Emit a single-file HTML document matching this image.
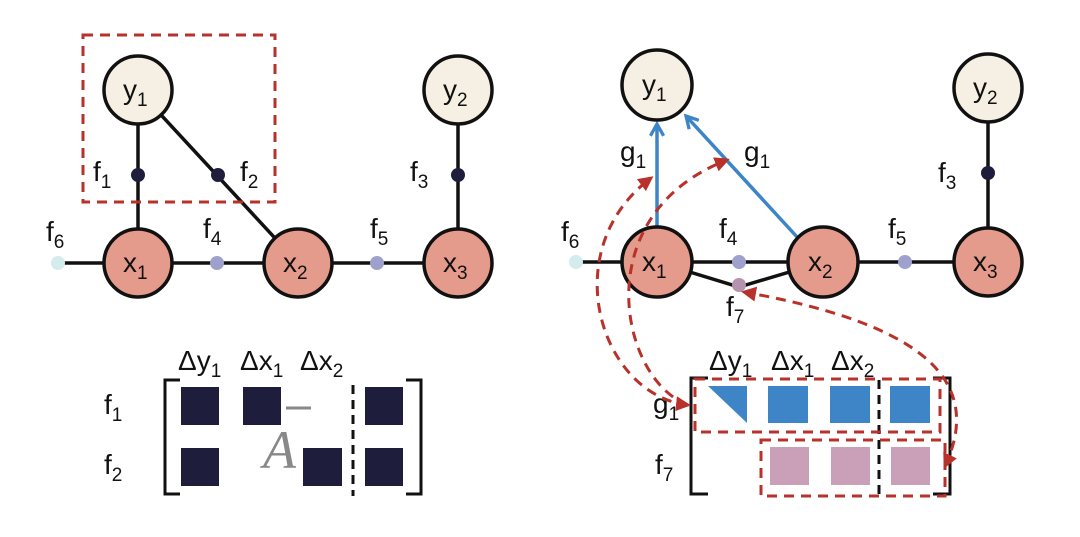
<!DOCTYPE html>
<html><head><meta charset="utf-8"><style>
html,body{margin:0;padding:0;background:#fff;}
svg{display:block;font-family:"Liberation Sans",sans-serif;}
</style></head><body>
<svg width="1080" height="537" viewBox="0 0 1080 537" xmlns="http://www.w3.org/2000/svg">
<defs>
<marker id="ra" viewBox="0 0 10 10" refX="8" refY="5" markerWidth="5" markerHeight="5" orient="auto-start-reverse"><path d="M0,0 L10,5 L0,10 z" fill="#b8312a"/></marker>
<marker id="ba" viewBox="0 0 12 12" refX="10" refY="6" markerWidth="4.5" markerHeight="4.5" orient="auto"><path d="M1,1 L10,6 L1,11" fill="none" stroke="#3d85c6" stroke-width="2.5"/></marker>
</defs>
<g stroke="#111" stroke-width="3.5" fill="none">
<line x1="138" y1="90" x2="138" y2="263"/>
<line x1="138" y1="90" x2="298" y2="263"/>
<line x1="458" y1="90" x2="458" y2="263"/>
<line x1="58" y1="263" x2="458" y2="263"/>
<line x1="988" y1="88" x2="988" y2="262"/>
<line x1="576" y1="262" x2="988" y2="262"/>
<polyline points="657,262 739,287 823,262"/>
</g>
<rect x="83" y="35" width="192" height="167" fill="none" stroke="#b8312a" stroke-width="3" stroke-dasharray="10,7"/>
<line x1="657" y1="228" x2="657" y2="124" stroke="#3d85c6" stroke-width="3.5" marker-end="url(#ba)"/>
<line x1="798" y1="238" x2="686" y2="116" stroke="#3d85c6" stroke-width="3.5" marker-end="url(#ba)"/>
<g stroke="#111" stroke-width="3.5">
<circle cx="138" cy="90" r="34" fill="#f5f0e3"/>
<circle cx="458" cy="90" r="34" fill="#f5f0e3"/>
<circle cx="138" cy="263" r="34" fill="#e59b8c"/>
<circle cx="298" cy="263" r="34" fill="#e59b8c"/>
<circle cx="458" cy="263" r="34" fill="#e59b8c"/>
<circle cx="657" cy="85" r="35" fill="#f5f0e3"/>
<circle cx="988" cy="88" r="34" fill="#f5f0e3"/>
<circle cx="657" cy="262" r="35" fill="#e59b8c"/>
<circle cx="823" cy="262" r="35" fill="#e59b8c"/>
<circle cx="988" cy="262" r="34" fill="#e59b8c"/>
</g>
<g>
<circle cx="138" cy="175" r="7" fill="#1e1e3c"/>
<circle cx="218" cy="175" r="7" fill="#1e1e3c"/>
<circle cx="458" cy="175" r="7" fill="#1e1e3c"/>
<circle cx="217" cy="263" r="7" fill="#a0a0cc"/>
<circle cx="377" cy="263" r="7" fill="#a0a0cc"/>
<circle cx="58" cy="263" r="7" fill="#d4ecec"/>
<circle cx="988" cy="173" r="7" fill="#1e1e3c"/>
<circle cx="739" cy="262" r="7" fill="#a0a0cc"/>
<circle cx="905" cy="262" r="7" fill="#a0a0cc"/>
<circle cx="576" cy="262" r="7" fill="#d4ecec"/>
<circle cx="739" cy="285" r="7" fill="#b592ad"/>
</g>
<g font-size="28" fill="#111">
<text x="123" y="99">y<tspan font-size="19" dy="7">1</tspan></text>
<text x="443" y="99">y<tspan font-size="19" dy="7">2</tspan></text>
<text x="123" y="272">x<tspan font-size="19" dy="7">1</tspan></text>
<text x="283" y="272">x<tspan font-size="19" dy="7">2</tspan></text>
<text x="443" y="272">x<tspan font-size="19" dy="7">3</tspan></text>
<text x="93" y="181">f<tspan font-size="19" dy="7">1</tspan></text>
<text x="240" y="181">f<tspan font-size="19" dy="7">2</tspan></text>
<text x="410" y="181">f<tspan font-size="19" dy="7">3</tspan></text>
<text x="46" y="241">f<tspan font-size="19" dy="7">6</tspan></text>
<text x="203" y="238">f<tspan font-size="19" dy="7">4</tspan></text>
<text x="370" y="238">f<tspan font-size="19" dy="7">5</tspan></text>

<text x="642" y="94">y<tspan font-size="19" dy="7">1</tspan></text>
<text x="973" y="97">y<tspan font-size="19" dy="7">2</tspan></text>
<text x="642" y="271">x<tspan font-size="19" dy="7">1</tspan></text>
<text x="808" y="271">x<tspan font-size="19" dy="7">2</tspan></text>
<text x="973" y="271">x<tspan font-size="19" dy="7">3</tspan></text>
<text x="620" y="161">g<tspan font-size="19" dy="7">1</tspan></text>
<text x="744" y="161">g<tspan font-size="19" dy="7">1</tspan></text>
<text x="938" y="182">f<tspan font-size="19" dy="7">3</tspan></text>
<text x="561" y="241">f<tspan font-size="19" dy="7">6</tspan></text>
<text x="719" y="238">f<tspan font-size="19" dy="7">4</tspan></text>
<text x="888" y="238">f<tspan font-size="19" dy="7">5</tspan></text>
<text x="726" y="316">f<tspan font-size="19" dy="7">7</tspan></text>
</g>
<g fill="#1e1e3c">
<rect x="181" y="387" width="38" height="38"/>
<rect x="243" y="387" width="38" height="38"/>
<rect x="365" y="387" width="38" height="38"/>
<rect x="181" y="448" width="38" height="38"/>
<rect x="303" y="448" width="39" height="38"/>
<rect x="365" y="448" width="38" height="38"/>
</g>
<path d="M180,380 L165,380 L165,494 L180,494" fill="none" stroke="#111" stroke-width="3"/>
<path d="M406,380 L421,380 L421,494 L406,494" fill="none" stroke="#111" stroke-width="3"/>
<line x1="353" y1="385" x2="353" y2="496" stroke="#111" stroke-width="3" stroke-dasharray="9,6"/>
<g font-size="28" fill="#111">
<text x="178" y="370">Δy<tspan font-size="19" dy="7">1</tspan></text>
<text x="240" y="370">Δx<tspan font-size="19" dy="7">1</tspan></text>
<text x="300" y="370">Δx<tspan font-size="19" dy="7">2</tspan></text>
<text x="104" y="414">f<tspan font-size="19" dy="7">1</tspan></text>
<text x="104" y="474">f<tspan font-size="19" dy="7">2</tspan></text>
</g>
<text x="263" y="468" font-family="'Liberation Serif',serif" font-style="italic" font-size="54" fill="#888">A</text>
<line x1="286" y1="408" x2="311" y2="408" stroke="#888" stroke-width="3"/>
<g fill="#3d85c6">
<polygon points="708,386 747,386 747,423"/>
<rect x="768" y="386" width="40" height="37"/>
<rect x="830" y="386" width="40" height="37"/>
<rect x="890" y="386" width="40" height="37"/>
</g>
<g fill="#c9a0b8">
<rect x="770" y="447" width="39" height="38"/>
<rect x="831" y="447" width="39" height="38"/>
<rect x="891" y="447" width="39" height="38"/>
</g>
<path d="M708,378 L691,378 L691,494 L708,494" fill="none" stroke="#111" stroke-width="3"/>
<path d="M933,378 L950,378 L950,494 L933,494" fill="none" stroke="#111" stroke-width="3"/>
<line x1="879" y1="380" x2="879" y2="494" stroke="#111" stroke-width="3" stroke-dasharray="9,6"/>
<rect x="695" y="379" width="245" height="53" fill="none" stroke="#b8312a" stroke-width="3" stroke-dasharray="10,7"/>
<rect x="761" y="440" width="184" height="56" fill="none" stroke="#b8312a" stroke-width="3" stroke-dasharray="10,7"/>
<g font-size="28" fill="#111">
<text x="709" y="370">Δy<tspan font-size="19" dy="7">1</tspan></text>
<text x="771" y="370">Δx<tspan font-size="19" dy="7">1</tspan></text>
<text x="831" y="370">Δx<tspan font-size="19" dy="7">2</tspan></text>
<text x="653" y="413">g<tspan font-size="19" dy="7">1</tspan></text>
<text x="655" y="474">f<tspan font-size="19" dy="7">7</tspan></text>
</g>
<g fill="none" stroke="#b8312a" stroke-width="3" stroke-dasharray="10,7">
<path d="M688,405 C600,395 555,250 651,178" marker-start="url(#ra)" marker-end="url(#ra)"/>
<path d="M688,405 C620,380 585,215 727,160" marker-end="url(#ra)"/>
<path d="M945,466 C990,370 900,320 744,292" marker-start="url(#ra)" marker-end="url(#ra)"/>
</g>
</svg>
</body></html>
